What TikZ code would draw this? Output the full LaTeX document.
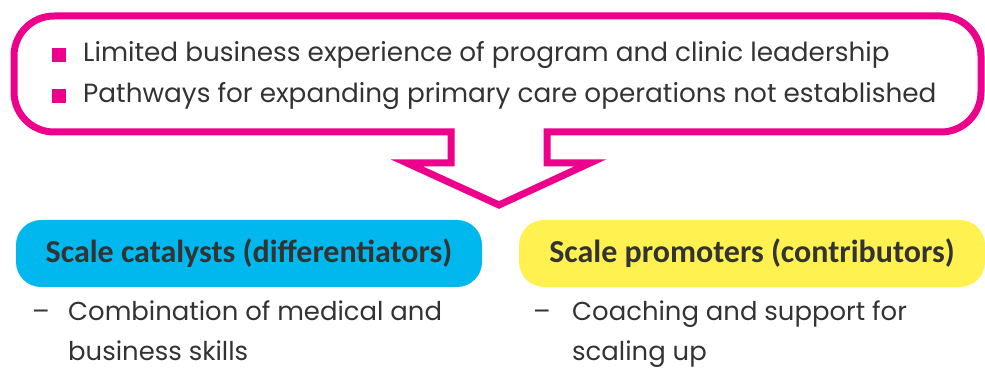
\documentclass[tikz,border=0pt]{standalone}
\usepackage{fontspec}
\setmainfont{Poppins}
\newfontfamily\headfont{Carlito}
\definecolor{mag}{HTML}{EC008C}
\definecolor{txt}{HTML}{333333}
\definecolor{cyanbox}{HTML}{00B8EE}
\definecolor{yelbox}{HTML}{FFF150}
\tikzset{
  pinkline/.style={draw=mag, line width=7pt, line join=miter},
  bulletsq/.style={fill=mag, inner sep=0pt, minimum size=14pt},
  bodytext/.style={anchor=base west, inner sep=0pt, text=txt, font=\fontsize{26.3}{30}\selectfont},
  subtext/.style={anchor=base west, inner sep=0pt, text=txt, font=\fontsize{25.9}{30}\selectfont},
  headbox/.style={rounded corners=25pt, minimum width=466pt, minimum height=67pt, inner sep=0pt,
     text=txt, font=\headfont\bfseries\fontsize{32}{36}\selectfont},
}
\begin{document}
\begin{tikzpicture}[x=1pt,y=-1pt]
\useasboundingbox (0,0) rectangle (985,371);
\draw[pinkline] (547,132) -- (941,132) arc[start angle=90,end angle=0,radius=40]
  -- (981,56) arc[start angle=0,end angle=-90,radius=40]
  -- (54,16) arc[start angle=-90,end angle=-180,radius=40]
  -- (14,92) arc[start angle=180,end angle=90,radius=40]
  -- (451,132) -- (451,163) -- (407,163) -- (499,205) -- (590,163) -- (547,163) -- cycle;
\node[bulletsq] (b1) at (59,55) {};
\node[bulletsq] (b2) at (59,96) {};
\node[bodytext] (t1) at (83,62) {Limited business experience of program and clinic leadership};
\node[bodytext] (t2) at (83,103) {Pathways for expanding primary care operations not established};
\node[headbox, fill=cyanbox] (cat) at (249,253.5) {Scale catalysts (differentiators)};
\node[headbox, fill=yelbox] (pro) at (752,253.5) {Scale promoters (contributors)};
\node[subtext] (d1) at (32,320) {–};
\node[subtext] (c1) at (68,320) {Combination of medical and};
\node[subtext] (c2) at (68,360) {business skills};
\node[subtext] (d2) at (533,320) {–};
\node[subtext] (p1) at (572,320) {Coaching and support for};
\node[subtext] (p2) at (572,360) {scaling up};
\end{tikzpicture}
\end{document}
